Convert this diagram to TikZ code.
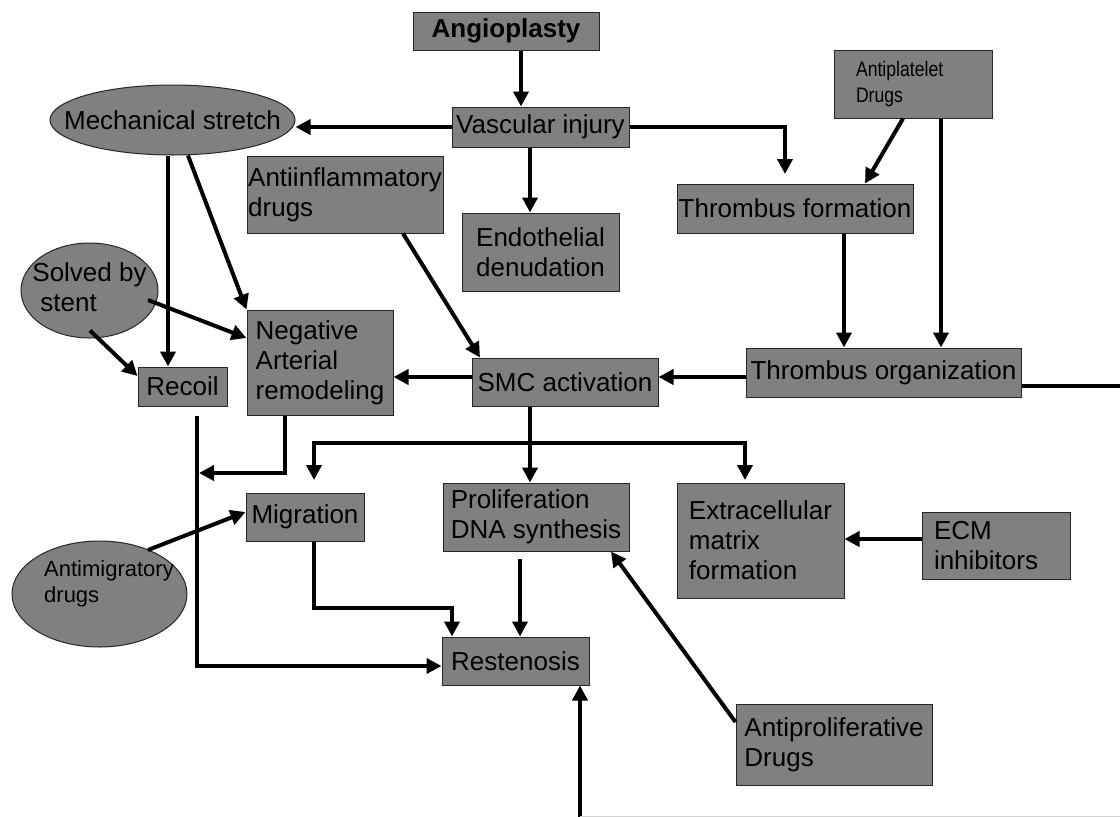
\documentclass[tikz,border=0pt]{standalone}
\usepackage{fontspec}
\setmainfont{Liberation Sans}
\newfontfamily\narrowfont[FakeStretch=0.84]{Liberation Sans}
\usetikzlibrary{arrows.meta,shapes.geometric}
\definecolor{boxgray}{RGB}{128,128,128}
\tikzset{
  boxbase/.style={draw=black!85, line width=1pt, fill=boxgray,
    font=\fontsize{26}{30}\selectfont},
  blk/.style={boxbase, rectangle, inner sep=1pt, align=left},
  oval/.style={boxbase, ellipse, inner sep=0pt},
  arr/.style={line width=4pt, -{Triangle[width=15pt,length=15pt]}},
  arrboth/.style={line width=4pt, {Triangle[width=15pt,length=15pt]}-{Triangle[width=15pt,length=15pt]}},
  plainln/.style={line width=4pt}
}
\begin{document}
\begin{tikzpicture}[x=1pt,y=-1pt]
  \fill[white] (0,0) rectangle (1120,817);
  \path[use as bounding box] (0,0) rectangle (1120,817);

  % top row
  \node[blk, minimum width=186pt, minimum height=38pt,
        font=\fontsize{26}{30}\selectfont\bfseries] (angio) at (506,31) {Angioplasty};
  \node[blk, minimum width=177pt, minimum height=40pt] (vasc) at (540.5,127) {Vascular injury};
  \node[oval, minimum width=245pt, minimum height=70pt] (mech) at (172.5,120)
        {\makebox[0pt]{Mechanical stretch}};
  \node[blk, minimum width=158pt, minimum height=68pt, inner xsep=22pt, text width=114pt,
        font=\narrowfont\fontsize{21}{26}\selectfont] (antiplt) at (913,84) {Antiplatelet\\Drugs};
  \node[blk, minimum width=236pt, minimum height=49pt] (thrform) at (795,208.5) {Thrombus formation};
  \node[blk, minimum width=196pt, minimum height=77pt] (antiinf) at (345,194.5) {Antiinflammatory\\drugs};
  \node[blk, minimum width=157pt, minimum height=78pt] (endo) at (540.5,252) {Endothelial\\denudation};

  % middle row
  \node[oval, minimum width=137pt, minimum height=95pt] (stent) at (89.5,290.5)
        {\makebox[0pt]{\begin{tabular}{@{}l@{}}Solved by\\\hspace*{8pt}stent\end{tabular}}};
  \node[blk, minimum width=89pt, minimum height=39pt] (recoil) at (182.5,386.5) {Recoil};
  \node[blk, minimum width=146pt, minimum height=105pt] (negrem) at (320,362.5) {Negative\\Arterial\\remodeling};
  \node[blk, minimum width=186pt, minimum height=48pt] (smc) at (565,382) {SMC activation};
  \node[blk, minimum width=275pt, minimum height=49pt] (throrg) at (883.5,372.5) {Thrombus organization};

  % lower rows
  \node[blk, minimum width=118pt, minimum height=48pt] (migr) at (305,517) {Migration};
  \node[blk, minimum width=186pt, minimum height=68pt] (prolif) at (536,517) {Proliferation\\DNA synthesis};
  \node[blk, minimum width=167pt, minimum height=115pt] (ecm) at (760.5,540.5) {Extracellular\\matrix\\formation};
  \node[blk, minimum width=148pt, minimum height=67pt, inner xsep=12pt, text width=124pt]
        (ecminh) at (996,545.5) {ECM\\inhibitors};
  \node[oval, minimum width=175pt, minimum height=106pt, font=\fontsize{22}{26}\selectfont]
        (antimig) at (99.5,594)
        {\makebox[0pt]{\hspace*{19pt}\begin{tabular}{@{}l@{}}Antimigratory\\drugs\\[20pt]\end{tabular}}};
  \node[blk, minimum width=147pt, minimum height=48pt] (resten) at (515.5,661) {Restenosis};
  \node[blk, minimum width=196pt, minimum height=81pt] (antiprol) at (834,744.5) {Antiproliferative\\Drugs};

  % free ends and bends
  \coordinate (tfin) at (785,174);
  \coordinate (toout) at (1120,386);
  \coordinate (restin) at (580,817);
  \coordinate (recgap) at (197,416);
  \coordinate (recjoin) at (199,473);
  \coordinate (smcsplit) at (530,443);
  \coordinate (migin) at (314,480);
  \coordinate (ecmin) at (745,480);
  \coordinate (migbend) at (452,608);
  \coordinate (prolgap) at (520,559);

  % connectors
  \draw[arr] (angio.south -| 521,0) -- (vasc.north -| 521,0);
  \draw[arr] (vasc.west) -- (mech.east |- vasc.west);
  \draw[arr] (vasc.south -| 530,0) -- (endo.north -| 530,0);
  \draw[arr] (vasc.east) -| (tfin);
  \draw[arr] (antiplt.south -| 903,0) -- (thrform.north -| 865,0);
  \draw[arr] (antiplt.south -| 941,0) -- (throrg.north -| 941,0);
  \draw[arr] (thrform.south -| 844,0) -- (throrg.north -| 844,0);
  \draw[arr] (throrg.west |- 0,377) -- (smc.east |- 0,377);
  \draw[plainln] (throrg.east |- toout) -- (toout);
  \draw[arr] (restin) -- (resten.south -| restin);
  \draw[arr] (antiinf.south -| 403,0) -- (smc.north -| 480,0);
  \draw[arr] (smc.west |- 0,377) -- (negrem.east |- 0,377);
  \draw[arr] (mech.south -| 168,0) -- (recoil.north -| 168,0);
  \draw[arr] (mech.south -| 188,0) -- (negrem.north west);
  \draw[arr] ([shift={(58.5,9.5)}]stent.center) -- (negrem.west |- 0,338);
  \draw[arr] ([shift={(0.5,40)}]stent.center) -- (recoil.west |- 0,376);
  \draw[arr] (recgap) |- (resten.west |- 0,666);
  \draw[arr] (negrem.south -| 285,0) |- (recjoin);
  \draw[arr] (smc.south -| 530,0) -- (prolif.north -| 530,0);
  \draw[arrboth] (migin) |- (smcsplit) -| (ecmin);
  \draw[arr] ([shift={(48.5,-44)}]antimig.center) -- (migr.west |- 0,512);
  \draw[arr] (migr.south -| 314,0) |- (migbend) -- (resten.north -| migbend);
  \draw[arr] (prolgap) -- (resten.north -| prolgap);
  \draw[arr] (antiprol.west |- 0,722) -- (prolif.south -| 611,0);
  \draw[arr] (ecminh.west |- 0,539) -- (ecm.east |- 0,539);
  \draw[gray!35, line width=1pt] (restin |- 0,816) -- (1120,816);
\end{tikzpicture}
\end{document}
